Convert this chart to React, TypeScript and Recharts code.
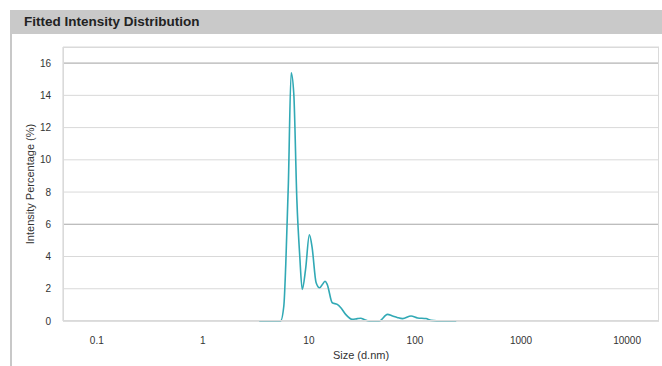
import { LineChart, Line, XAxis, YAxis, CartesianGrid, ReferenceLine } from 'recharts'

const sizes = [
  3.4, 4.0, 4.8, 5.4, 5.8, 6.05, 6.4, 6.8, 7.2, 7.7, 8.2, 8.65, 9.3, 10.1, 10.7, 11.7, 12.6, 13.5, 14.2,
  14.9, 16.6, 18.5, 20, 22.2, 25.7, 28.6, 30.9, 33.2, 37, 46, 55, 61.5, 68, 76.5, 91.8, 106, 127, 142, 180, 245,
]
const intensity = [
  0, 0, 0, 0, 0.93, 3.5, 8.5, 15.4, 14.1, 7.5, 4.0, 1.96, 3.2, 5.35, 4.6, 2.37, 2.06, 2.3, 2.47,
  2.26, 1.13, 1.03, 0.82, 0.41, 0.1, 0.15, 0.17, 0.09, 0, 0, 0.41, 0.31, 0.22, 0.15, 0.31, 0.19, 0.15, 0.04, 0, 0,
]
const xTicks = [0.1, 1, 10, 100, 1000, 10000]
const yTicks = [0, 2, 4, 6, 8, 10, 12, 14, 16]
const darkGrid = [6, 16]

const data = sizes.map((s, i) => ({ size: s, value: intensity[i] }))

const font = '"Liberation Sans", Arial, sans-serif'
const tick = { fill: '#333', fontSize: 10, fontFamily: font }

export default function App() {
  return (
    <div style={{ position: 'absolute', left: 0, top: 0, width: 662, height: 366, background: '#fff', overflow: 'hidden' }}>
      <div
        style={{
          position: 'absolute', left: 10, top: 10, width: 652, height: 24, background: '#c9c9c9',
          fontFamily: font, fontWeight: 'bold', fontSize: 13.5, color: '#222', lineHeight: '24px', paddingLeft: 14,
          boxSizing: 'border-box',
        }}
      >
        Fitted Intensity Distribution
      </div>
      <div style={{ position: 'absolute', left: 10, top: 34, width: 2, height: 332, background: '#c8c8c8' }} />
      <div style={{ position: 'absolute', left: 0, top: 0 }}>
        <LineChart width={662} height={366} data={data} margin={{ top: 47, right: 3, bottom: 0, left: 20 }}>
          <CartesianGrid vertical={false} stroke="#d9d9d9" />
          <XAxis
            dataKey="size"
            type="number"
            scale="log"
            domain={[0.048, 20000]}
            ticks={xTicks}
            allowDataOverflow
            height={45}
            tick={tick}
            tickLine={false}
            axisLine={{ stroke: '#d0d0d0' }}
            tickMargin={10}
            label={{ value: 'Size (d.nm)', position: 'insideBottom', offset: 7, fill: '#333', fontSize: 11, fontFamily: font }}
          />
          <YAxis
            type="number"
            domain={[0, 17]}
            ticks={yTicks}
            width={43}
            tick={tick}
            tickLine={false}
            axisLine={{ stroke: '#d0d0d0' }}
            tickMargin={6}
            label={{ value: 'Intensity Percentage (%)', angle: -90, position: 'insideLeft', offset: 10, fill: '#333', fontSize: 11, fontFamily: font, style: { textAnchor: 'middle' } }}
          />
          {darkGrid.map((v) => (
            <ReferenceLine key={v} y={v} stroke="#b3b3b3" />
          ))}
          <Line type="monotone" dataKey="value" stroke="#31a9b5" strokeWidth={1.6} dot={false} isAnimationActive={false} />
        </LineChart>
      </div>
      <div style={{ position: 'absolute', left: 63, top: 47, width: 596, height: 274, border: '1px solid #dadada', boxSizing: 'border-box', pointerEvents: 'none' }} />
    </div>
  )
}
